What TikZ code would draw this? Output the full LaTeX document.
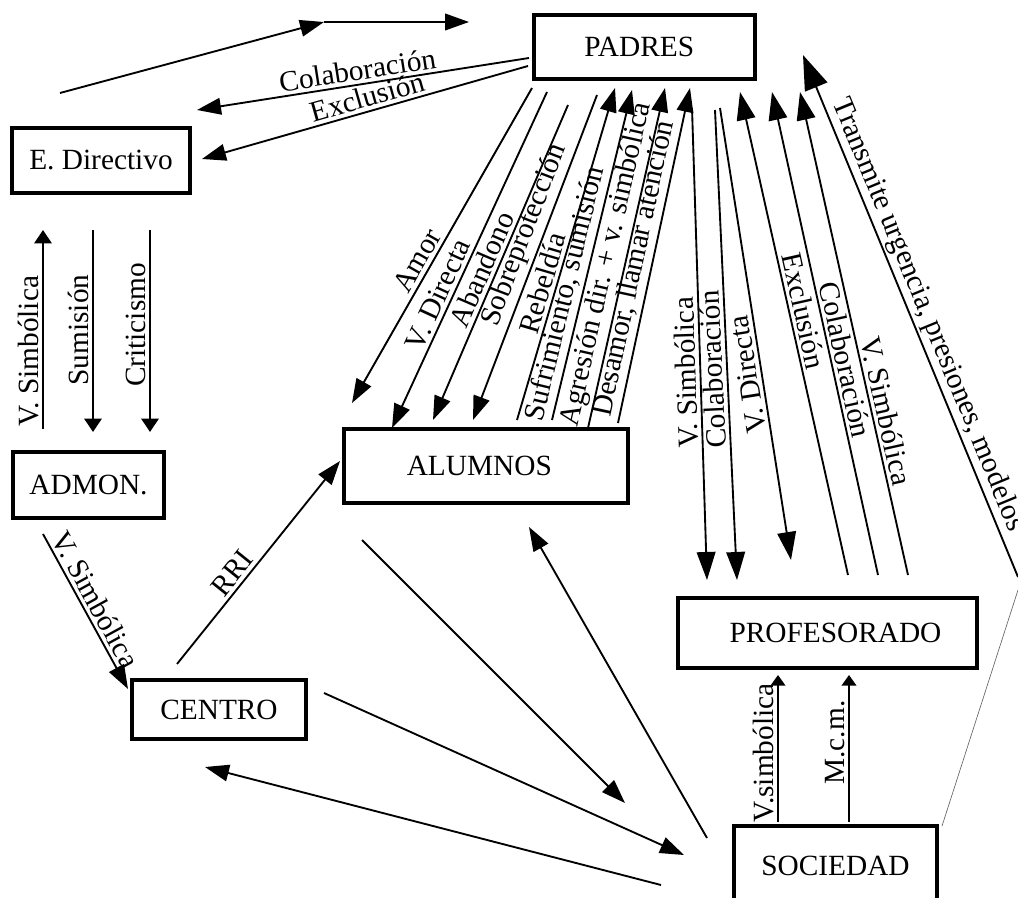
\documentclass[tikz,border=0pt]{standalone}
\usepackage{fontspec}
\setmainfont{Liberation Serif}
\usetikzlibrary{arrows.meta}
\begin{document}
\begin{tikzpicture}[x=0.75pt,y=-0.75pt,
  box/.style={draw, line width=2.8pt, inner sep=0pt, fill=white, font=\fontsize{22}{26}\selectfont},
  conn/.style={line width=1.4pt, >={Triangle[length=18pt,width=12.5pt]}},
  bighead/.style={>={Triangle[length=21pt,width=14pt]}},
  hugehead/.style={>={Triangle[length=26pt,width=18pt]}},
  stubhead/.style={>={Triangle[length=10pt,width=13pt]}},
  smallhead/.style={>={Triangle[length=8pt,width=11pt]}},
  lab/.style={sloped, allow upside down, above, inner sep=2.5pt, font=\fontsize{22}{26}\selectfont},
  thinline/.style={line width=0.5pt, draw=black!60}
]
\useasboundingbox (0,0) rectangle (1018,898);

% boxes
\node[box, minimum width=165.75pt, minimum height=48pt] (padres) at (644.5,47) {PADRES\hspace*{8pt}};
\node[box, minimum width=133.5pt, minimum height=48.75pt] (edir) at (101,160.5) {E. Directivo};
\node[box, minimum width=113.25pt, minimum height=49.5pt] (admon) at (88.5,485) {ADMON.};
\node[box, minimum width=130.5pt, minimum height=44.25pt] (centro) at (219,709.5) {CENTRO};
\node[box, minimum width=213pt, minimum height=55.5pt] (alumnos) at (486,466) {ALUMNOS\hspace*{10pt}};
\node[box, minimum width=224.25pt, minimum height=52.5pt] (prof) at (827.5,633) {\hspace*{12pt}PROFESORADO};
\node[box, minimum width=152.25pt, minimum height=59.25pt] (soc) at (835.5,865.5) {SOCIEDAD};

% connector end points
\coordinate (t0) at (60,93);   \coordinate (t1) at (324,22);  \coordinate (t2) at (469,22);
\coordinate (ca) at (197,110); \coordinate (cb) at (529,58);
\coordinate (xa) at (202,159); \coordinate (xb) at (528,66);
\coordinate (a1s) at (352,403); \coordinate (a1e) at (532,88);
\coordinate (a2s) at (392,428); \coordinate (a2e) at (547,92);
\coordinate (a3s) at (433,420); \coordinate (a3e) at (568,105);
\coordinate (a4s) at (473,420); \coordinate (a4e) at (597,95);
\coordinate (b1s) at (517,420); \coordinate (b1e) at (615,88);
\coordinate (b2s) at (552,420); \coordinate (b2e) at (632,90);
\coordinate (b3s) at (588,428); \coordinate (b3e) at (665,88);
\coordinate (b4s) at (618,423); \coordinate (b4e) at (690,88);
\coordinate (c1s) at (707,580); \coordinate (c1e) at (692,108);
\coordinate (c2s) at (737,580); \coordinate (c2e) at (715,110);
\coordinate (c3s) at (791,560); \coordinate (c3e) at (720,108);
\coordinate (d1s) at (740,92);  \coordinate (d1e) at (848,575);
\coordinate (d2s) at (772,92);  \coordinate (d2e) at (878,575);
\coordinate (d3s) at (800,92);  \coordinate (d3e) at (908,575);
\coordinate (trs) at (803,55);  \coordinate (tre) at (1018,577);
\coordinate (ths) at (1018,590); \coordinate (the) at (942,826);
\coordinate (l1s) at (43,429);  \coordinate (l1e) at (43,230);
\coordinate (l2s) at (93,432);  \coordinate (l2e) at (93,230);
\coordinate (l3s) at (150,432); \coordinate (l3e) at (150,230);
\coordinate (acs) at (43,534);  \coordinate (ace) at (128,689);
\coordinate (rs) at (177,664);  \coordinate (re) at (340,461);
\coordinate (e1s) at (362,540); \coordinate (e1e) at (625,803);
\coordinate (e2s) at (707,838); \coordinate (e2e) at (529,527);
\coordinate (e3s) at (324,693); \coordinate (e3e) at (684,855);
\coordinate (e4s) at (661,885); \coordinate (e4e) at (205,767);
\coordinate (s1s) at (778,822); \coordinate (s1e) at (778,675);
\coordinate (s2s) at (849,822); \coordinate (s2e) at (849,675);

% top
\draw[conn,->] (t0) -- (t1);
\draw[conn,->] (t1) -- (t2);
\draw[conn,<-] (ca) -- (cb) node[lab,pos=0.49] {Colaboración};
\draw[conn,<-] (xa) -- (xb) node[lab,pos=0.52] {Exclusión};

% padres -> alumnos
\draw[conn,<-] (a1s) -- (a1e) node[lab,pos=0.43] {Amor};
\draw[conn,<-] (a2s) -- (a2e) node[lab,pos=0.38] {V. Directa};
\draw[conn,<-] (a3s) -- (a3e) node[lab,pos=0.46] {Abandono};
\draw[conn,<-] (a4s) -- (a4e) node[lab,pos=0.55] {Sobreprotección};
% alumnos -> padres
\draw[conn,->] (b1s) -- (b1e) node[lab,pos=0.40] {Rebeldía};
\draw[conn,->] (b2s) -- (b2e) node[lab,pos=0.37] {Sufrimiento, sumisión};
\draw[conn,->] (b3s) -- (b3e) node[lab,pos=0.47] {Agresión dir. + v. simbólica};
\draw[conn,->] (b4s) -- (b4e) node[lab,pos=0.45] {Desamor, llamar atención};

% padres -> profesorado
\draw[conn,bighead,<-] (c1s) -- (c1e) node[lab,pos=0.44] {V. Simbólica};
\draw[conn,bighead,<-] (c2s) -- (c2e) node[lab,pos=0.45] {Colaboración};
\draw[conn,bighead,<-] (c3s) -- (c3e) node[lab,pos=0.415] {V. Directa};
% profesorado -> padres
\draw[conn,bighead,<-] (d1s) -- (d1e) node[lab,pos=0.46] {Exclusión};
\draw[conn,bighead,<-] (d2s) -- (d2e) node[lab,pos=0.56] {Colaboración};
\draw[conn,bighead,<-] (d3s) -- (d3e) node[lab,pos=0.667] {V. Simbólica};
\draw[conn,hugehead,<-] (trs) -- (tre) node[lab,pos=0.51,inner sep=1.5pt] {Transmite urgencia, presiones, modelos};
\draw[thinline] (ths) -- (the);

% left column
\draw[conn,stubhead,->] (l1s) -- (l1e) node[lab,pos=0.39] {V. Simbólica};
\draw[conn,stubhead,<-] (l2s) -- (l2e) node[lab,pos=0.505] {Sumisión};
\draw[conn,stubhead,<-] (l3s) -- (l3e) node[lab,pos=0.53] {Criticismo};
\draw[conn,->] (acs) -- (ace) node[lab,pos=0.47] {V. Simbólica};
\draw[conn,->] (rs) -- (re) node[lab,pos=0.405] {RRI};

% bottom
\draw[conn,->] (e1s) -- (e1e);
\draw[conn,->] (e2s) -- (e2e);
\draw[conn,->] (e3s) -- (e3e);
\draw[conn,->] (e4s) -- (e4e);
\draw[conn,smallhead,->] (s1s) -- (s1e) node[lab,pos=0.47] {V.simbólica};
\draw[conn,smallhead,->] (s2s) -- (s2e) node[lab,pos=0.54] {M.c.m.};
\end{tikzpicture}
\end{document}
